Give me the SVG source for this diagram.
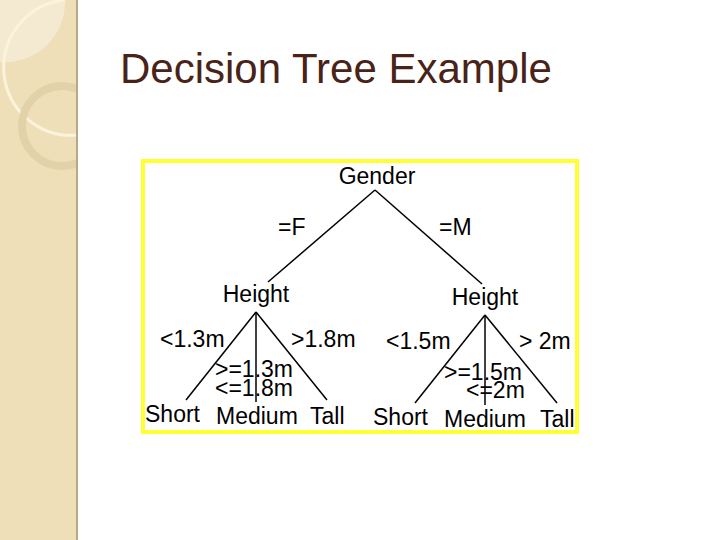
<svg xmlns="http://www.w3.org/2000/svg" width="720" height="540" viewBox="0 0 720 540">
<style>
.t{font-family:"Liberation Sans",Arial,sans-serif;font-size:23px;fill:#000}
.e{stroke:#000;stroke-width:1.5;fill:none}
</style>
<defs><clipPath id="sb"><rect x="0" y="0" width="78" height="540"/></clipPath></defs>
<rect width="720" height="540" fill="#fff"/>
<g id="sidebar" clip-path="url(#sb)">
<rect x="0" y="0" width="78" height="540" fill="#efdfb8"/>
<path d="M0 62 A60 60 0 0 0 65 0 L0 0Z" fill="#f4ead2"/>
<path d="M78 135 A65 65 0 0 1 65 0" stroke="#fbf3dc" stroke-width="3" fill="none"/>
<circle cx="62" cy="126" r="40" stroke="#e2d2aa" stroke-width="8" fill="none"/>
<line x1="77" y1="0" x2="77" y2="540" stroke="#b8a888" stroke-width="2"/>
</g>
<text x="120" y="83" font-family="Liberation Sans,Arial,sans-serif" font-size="42" fill="#4a2318">Decision Tree Example</text>
<rect x="143" y="161" width="434" height="271" fill="#fff" stroke="#ffff33" stroke-width="4"/>
<g id="connectors">
<line class="e" x1="375" y1="190" x2="268" y2="282"/>
<line class="e" x1="375" y1="190" x2="482" y2="284"/>
<line class="e" x1="256" y1="312" x2="186" y2="400"/>
<line class="e" x1="256" y1="312" x2="256" y2="402"/>
<line class="e" x1="256" y1="312" x2="327" y2="400"/>
<line class="e" x1="485" y1="315" x2="415" y2="403"/>
<line class="e" x1="485" y1="315" x2="485" y2="405"/>
<line class="e" x1="485" y1="315" x2="557" y2="403"/>
</g>
<g id="gender"><text class="t" x="377" y="184" text-anchor="middle">Gender</text></g>
<g id="elabels">
<text class="t" x="278" y="235">=F</text>
<text class="t" x="439" y="235">=M</text>
<text class="t" x="160" y="347">&lt;1.3m</text>
<text class="t" x="291" y="347">&gt;1.8m</text>
<text class="t" x="215" y="377">&gt;=1.3m</text>
<text class="t" x="215" y="396">&lt;=1.8m</text>
<text class="t" x="386" y="349">&lt;1.5m</text>
<text class="t" x="519" y="349">&gt; 2m</text>
<text class="t" x="444" y="380">&gt;=1.5m</text>
<text class="t" x="466" y="398">&lt;=2m</text>
</g>
<g id="height1"><text class="t" x="256" y="302" text-anchor="middle">Height</text></g>
<g id="height2"><text class="t" x="485" y="305" text-anchor="middle">Height</text></g>
<g id="leaves">
<text class="t" x="145" y="422">Short</text>
<text class="t" x="216" y="424">Medium</text>
<text class="t" x="310" y="424">Tall</text>
<text class="t" x="373" y="425">Short</text>
<text class="t" x="444" y="427">Medium</text>
<text class="t" x="540" y="427">Tall</text>
</g>
</svg>
